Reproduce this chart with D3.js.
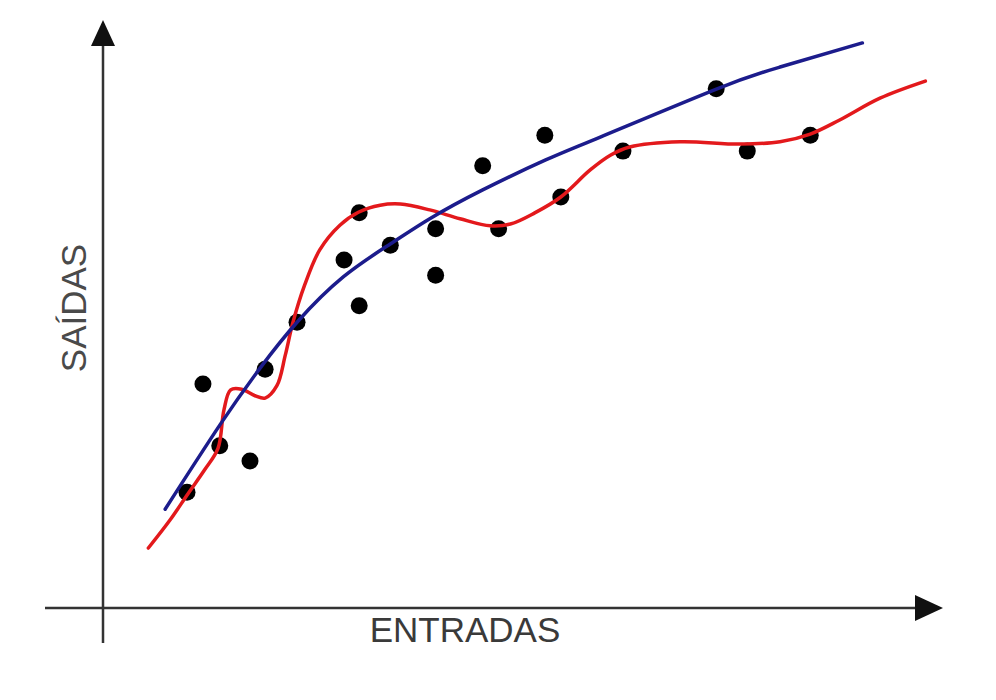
<!DOCTYPE html>
<html>
<head>
<meta charset="utf-8">
<script src="https://cdn.jsdelivr.net/npm/d3@7"></script>
<style>
  html, body { margin: 0; padding: 0; background: #fff; }
  svg { display: block; }
</style>
</head>
<body>
<svg id="chart" width="996" height="700"></svg>
<script>
// Observed samples (entradas, saídas)
const sampleX = [10.0, 11.9, 13.9, 17.5, 19.3, 23.1, 28.7, 30.5, 30.5, 34.2, 39.6, 39.6, 45.2, 47.1, 52.6, 54.5, 61.9, 73.0, 76.7, 84.2];
const sampleY = [19.7, 38.1, 27.6, 25.0, 40.6, 48.6, 59.2, 67.2, 51.4, 61.7, 64.5, 56.6, 75.2, 64.5, 80.4, 69.9, 77.7, 88.3, 77.7, 80.4];

// Smooth (well-fitted) model curve
const fitX = [7.4, 13.9, 18.7, 23.1, 28.6, 34.2, 38.9, 45.2, 52.7, 59.2, 73.1, 80.6, 90.4];
const fitY = [16.8, 31.1, 40.8, 48.6, 56.3, 61.9, 66.2, 71.1, 76.2, 80.1, 88.3, 92.0, 96.1];

// Overfitted model curve
const overX = [5.4, 8.0, 10.1, 12.1, 13.7, 14.4, 15.2, 16.5, 18.1, 19.3, 20.7, 21.7, 22.6, 24.0, 25.8, 28.2, 30.4, 33.0, 35.4, 38.9, 42.5, 46.1, 48.5, 51.4, 54.5, 58.0, 60.4, 62.7, 68.7, 75.8, 80.6, 84.2, 87.7, 92.5, 97.9];
const overY = [10.2, 15.0, 19.4, 23.5, 27.2, 33.7, 37.1, 37.2, 36.1, 35.7, 37.8, 43.0, 48.5, 54.9, 60.9, 65.1, 67.3, 68.5, 68.7, 67.7, 66.2, 65.0, 65.3, 67.2, 69.9, 74.5, 77.0, 78.4, 79.3, 78.9, 79.3, 80.6, 83.0, 86.7, 89.6];

const axisLabelX = "ENTRADAS";
const axisLabelY = "SAÍDAS";

const svg = d3.select("#chart");

const x = d3.scaleLinear().domain([0, 100]).range([103, 943]);
const y = d3.scaleLinear().domain([0, 100]).range([608, 20]);

const axisColor = "#333";

// Axes: plain lines with arrowheads, extending a little past the origin
const [x0, x1] = x.range();
const [y0, y1] = y.range();
svg.append("line")
  .attr("x1", x0 - 58).attr("y1", y0)
  .attr("x2", x1 - 28).attr("y2", y0)
  .attr("stroke", axisColor).attr("stroke-width", 2.5);
svg.append("line")
  .attr("x1", x0).attr("y1", y0 + 35)
  .attr("x2", x0).attr("y2", y1 + 25)
  .attr("stroke", axisColor).attr("stroke-width", 2.5);

// arrowheads
svg.append("path")
  .attr("d", `M${x1},${y0} L${x1 - 28},${y0 - 13} L${x1 - 28},${y0 + 13} Z`)
  .attr("fill", "#111");
svg.append("path")
  .attr("d", `M${x0},${y1} L${x0 - 12},${y1 + 26} L${x0 + 12},${y1 + 26} Z`)
  .attr("fill", "#111");

// Axis titles
svg.append("text")
  .attr("x", 465).attr("y", 642)
  .attr("text-anchor", "middle")
  .attr("font-family", "'Liberation Sans', Arial, sans-serif")
  .attr("font-size", 35)
  .attr("fill", "#3a3a3a")
  .text(axisLabelX);

svg.append("text")
  .attr("transform", "translate(86,308) rotate(-90)")
  .attr("text-anchor", "middle")
  .attr("font-family", "'Liberation Sans', Arial, sans-serif")
  .attr("font-size", 35)
  .attr("fill", "#4a4a4a")
  .text(axisLabelY);

// Sample points
const samples = sampleX.map((v, i) => ({ x: v, y: sampleY[i] }));
svg.append("g").selectAll("circle")
  .data(samples)
  .join("circle")
  .attr("cx", d => x(d.x))
  .attr("cy", d => y(d.y))
  .attr("r", 8.5)
  .attr("fill", "#000");

// Curves
const wiggly = d3.line()
  .x(d => x(d[0]))
  .y(d => y(d[1]))
  .curve(d3.curveCatmullRom.alpha(0.5));

const smooth = d3.line()
  .x(d => x(d[0]))
  .y(d => y(d[1]))
  .curve(d3.curveNatural);

svg.append("path")
  .datum(overX.map((v, i) => [v, overY[i]]))
  .attr("d", wiggly)
  .attr("fill", "none")
  .attr("stroke", "#e3191c")
  .attr("stroke-width", 3.5)
  .attr("stroke-linecap", "round");

svg.append("path")
  .datum(fitX.map((v, i) => [v, fitY[i]]))
  .attr("d", smooth)
  .attr("fill", "none")
  .attr("stroke", "#1c1c8c")
  .attr("stroke-width", 3.5)
  .attr("stroke-linecap", "round");
</script>
</body>
</html>
